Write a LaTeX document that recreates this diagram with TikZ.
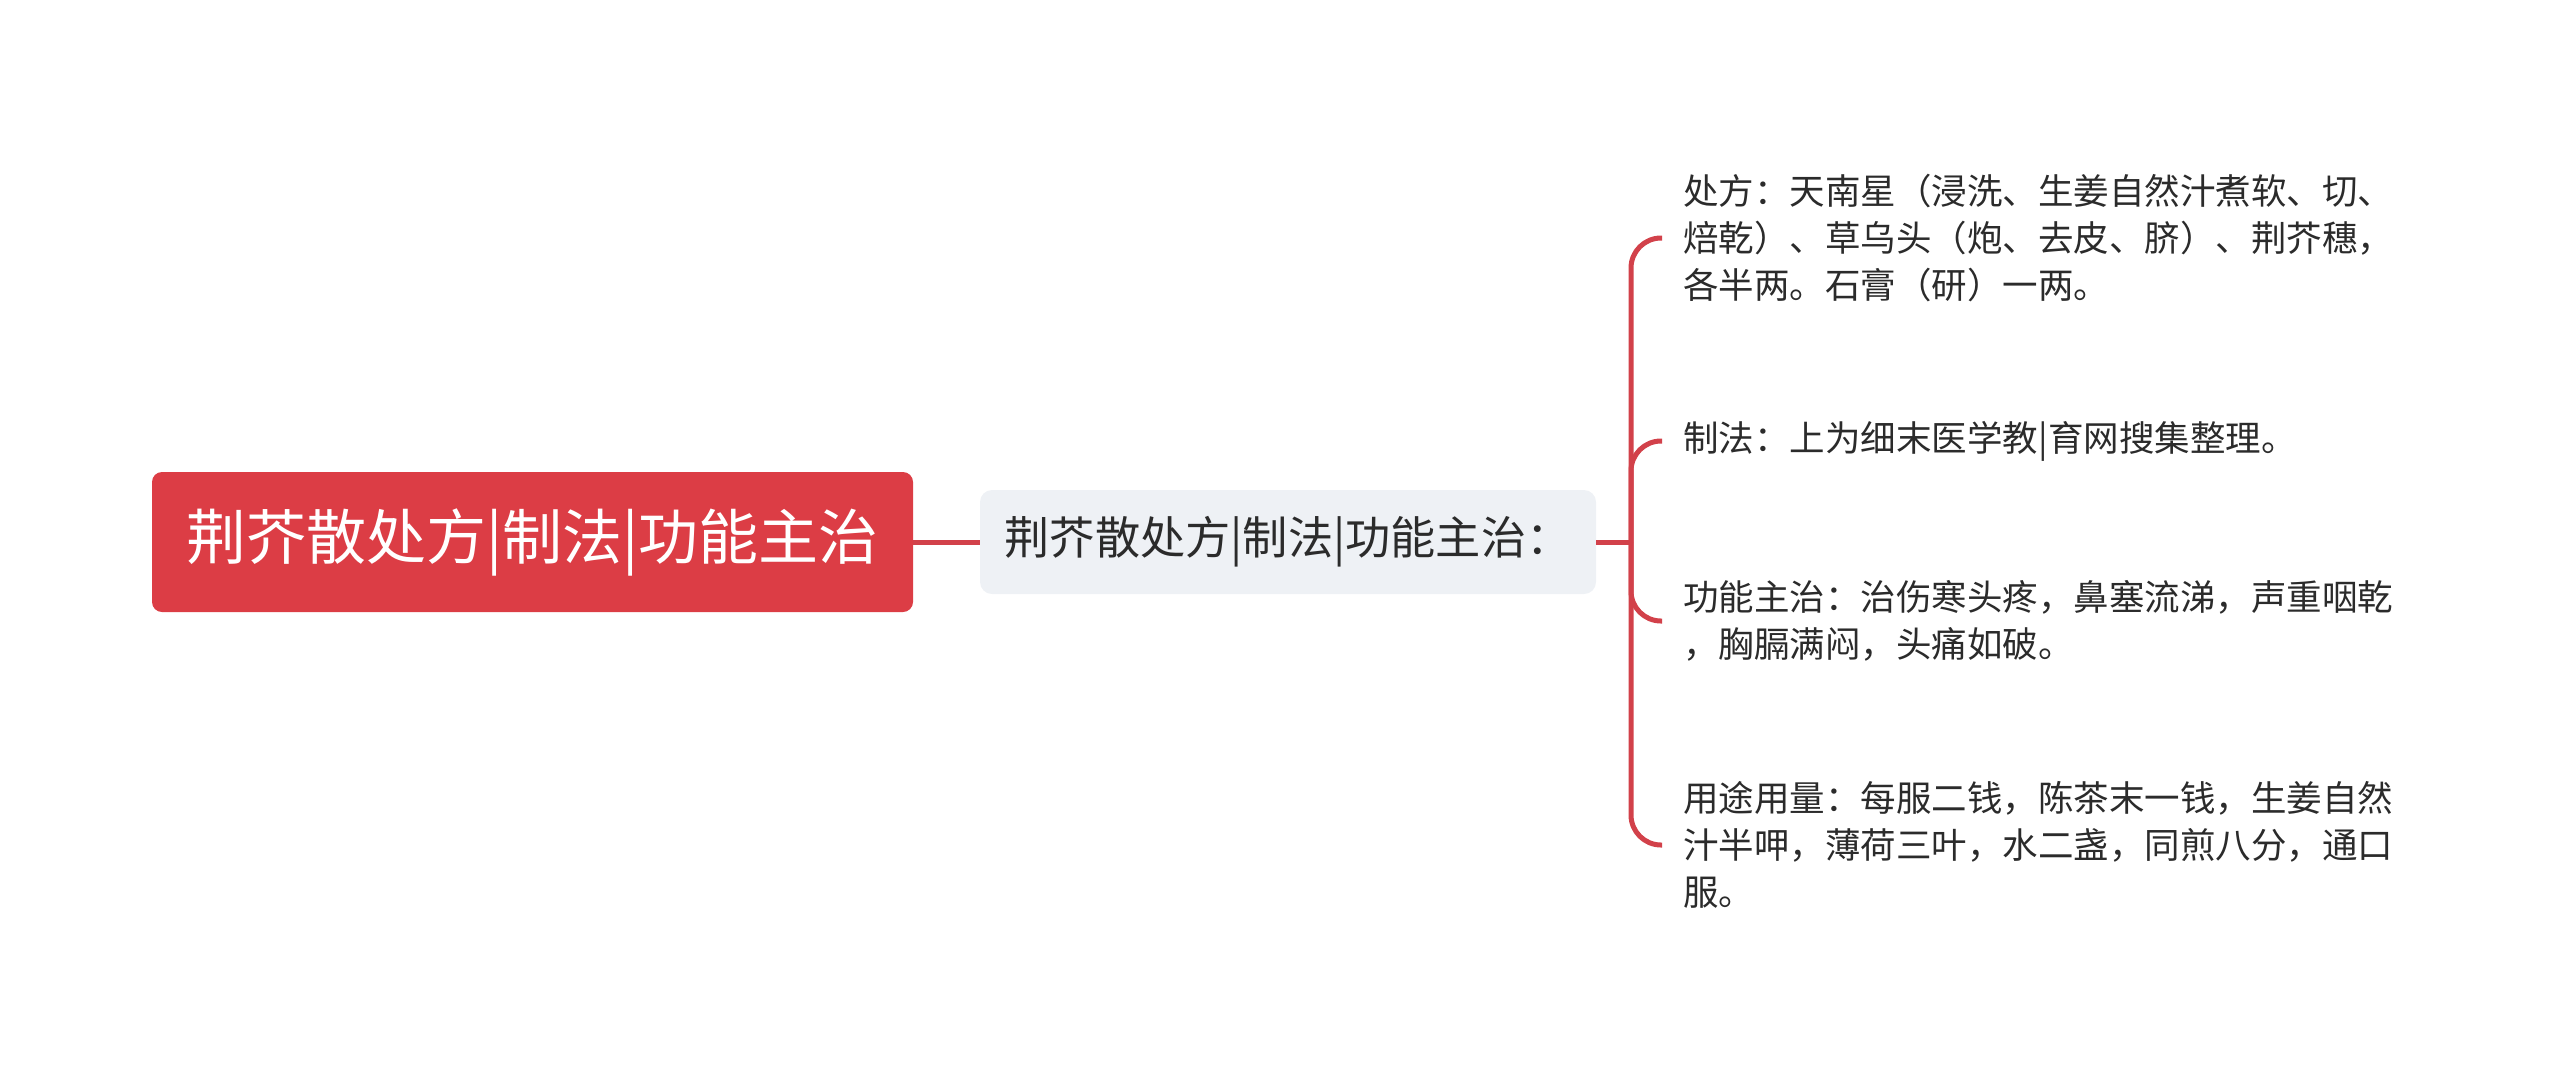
\documentclass[tikz,border=0pt]{standalone}
\usepackage{fontspec}
\setmainfont{Noto Sans CJK SC}
\definecolor{rootred}{HTML}{DC3D45}
\definecolor{linered}{HTML}{D2414A}
\definecolor{subgray}{HTML}{EEF1F5}
\definecolor{txtgray}{HTML}{2B2B2B}
\begin{document}
\begin{tikzpicture}[x=0.5pt,y=-0.5pt,
		rootbox/.style={fill=rootred, rounded corners=5pt, minimum width=380.5pt, minimum height=70pt, inner sep=0pt, text=white, font=\fontsize{30}{36}\selectfont},
		subbox/.style={fill=subgray, rounded corners=6pt, minimum width=308pt, minimum height=52pt, inner sep=0pt, text=txtgray, font=\fontsize{22.6}{27}\selectfont},
		leaf/.style={anchor=west, align=left, inner xsep=10.5pt, inner ysep=0pt, text=txtgray, font=\fontsize{17.75}{23.5}\selectfont},
		branch/.style={draw=linered, line width=2.5pt, rounded corners=15pt}]
		\useasboundingbox (0,0) rectangle (2560,1084);
		\node[rootbox] (root) at (532.5,542) {荆芥散处方|制法|功能主治};
		\node[subbox] (sub) at (1288,542) {荆芥散处方|制法|功能主治：};
		\coordinate (fork) at (1631,542);
		\node[leaf] (leaf1) at (1662,238) {处方：天南星（浸洗、生姜自然汁煮软、切、\\焙乾）、草乌头（炮、去皮、脐）、荆芥穗，\\各半两。石膏（研）一两。};
		\node[leaf] (leaf2) at (1662,441) {制法：上为细末医学教|育网搜集整理。};
		\node[leaf] (leaf3) at (1662,621) {功能主治：治伤寒头疼，鼻塞流涕，声重咽乾\\，胸膈满闷，头痛如破。};
		\node[leaf] (leaf4) at (1662,845) {用途用量：每服二钱，陈茶末一钱，生姜自然\\汁半呷，薄荷三叶，水二盏，同煎八分，通口\\服。};
		\draw[branch] (root.east) -- (sub.west);
		\draw[branch] (sub.east) -- (fork);
		\foreach \n in {leaf1,leaf2,leaf3,leaf4}
			\draw[branch] (fork) |- (\n.west);
	\end{tikzpicture}
\end{document}
